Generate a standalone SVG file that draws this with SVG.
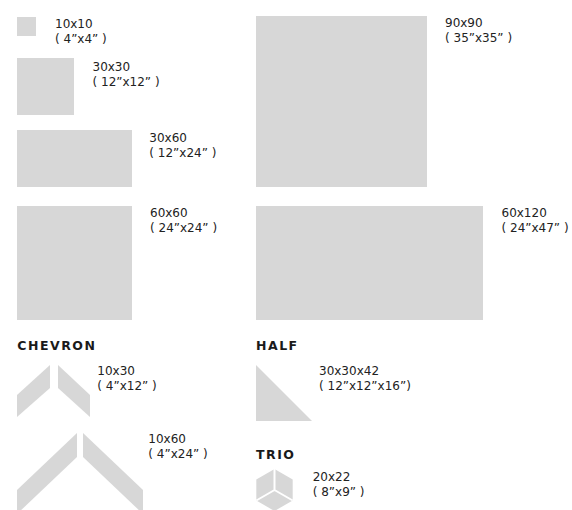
<svg xmlns="http://www.w3.org/2000/svg" width="572" height="510" viewBox="0 0 572 510">
<style>
.tile{fill:#d7d7d7}
.lbl{font-family:"DejaVu Sans",sans-serif;font-size:12px;fill:#222}
.hd{font-family:"DejaVu Sans",sans-serif;font-size:12.5px;font-weight:bold;letter-spacing:1.5px;fill:#1a1a1a}
.gap{stroke:#fff;stroke-width:2;fill:none}
</style>
<rect width="572" height="510" fill="#fff"/>
<g id="t10x10"><rect class="tile" x="17" y="17" width="19" height="19"/><text class="lbl" x="55" y="28.3">10x10<tspan x="55" dy="15">( 4”x4” )</tspan></text></g>
<g id="t30x30"><rect class="tile" x="17" y="58" width="57" height="57"/><text class="lbl" x="92.5" y="70.7">30x30<tspan x="92.5" dy="15">( 12”x12” )</tspan></text></g>
<g id="t30x60"><rect class="tile" x="17" y="130" width="115" height="57"/><text class="lbl" x="149.3" y="141.7">30x60<tspan x="149.3" dy="15">( 12”x24” )</tspan></text></g>
<g id="t60x60"><rect class="tile" x="17" y="206" width="115" height="114"/><text class="lbl" x="150" y="216.7">60x60<tspan x="150" dy="15">( 24”x24” )</tspan></text></g>
<g id="t90x90"><rect class="tile" x="256" y="16" width="171" height="171"/><text class="lbl" x="445" y="26.7">90x90<tspan x="445" dy="15">( 35”x35” )</tspan></text></g>
<g id="t60x120"><rect class="tile" x="256" y="206" width="227" height="114"/><text class="lbl" x="501.5" y="216.7">60x120<tspan x="501.5" dy="15">( 24”x47” )</tspan></text></g>
<g id="chevron"><text class="hd" x="17.3" y="350">CHEVRON</text></g>
<g id="c10x30"><polygon class="tile" points="50,365 50,388 17,417 17,395"/><polygon class="tile" points="58,365 90,395 90,417 58,388"/><text class="lbl" x="97.3" y="375">10x30<tspan x="97.3" dy="15">( 4”x12” )</tspan></text></g>
<g id="c10x60"><polygon class="tile" points="77,433 77,457 17,514 17,490"/><polygon class="tile" points="83,433 143,490 143,514 83,457"/><text class="lbl" x="148.3" y="443.3">10x60<tspan x="148.3" dy="15">( 4”x24” )</tspan></text></g>
<g id="half"><text class="hd" x="256" y="350">HALF</text></g>
<g id="h30x30x42"><polygon class="tile" points="256,365 256,421 312,421"/><text class="lbl" x="319" y="375">30x30x42<tspan x="319" dy="15">( 12”x12”x16”)</tspan></text></g>
<g id="trio"><text class="hd" x="256" y="459">TRIO</text></g>
<g id="t20x22"><polygon class="tile" points="274.5,469 292.7,479.5 292.7,500.5 274.5,511 256.3,500.5 256.3,479.5"/><path class="gap" d="M274.5,469 V490 L256.3,500.5 M274.5,490 L292.7,500.5"/><text class="lbl" x="312.7" y="480.7">20x22<tspan x="312.7" dy="15">( 8”x9” )</tspan></text></g>
</svg>
